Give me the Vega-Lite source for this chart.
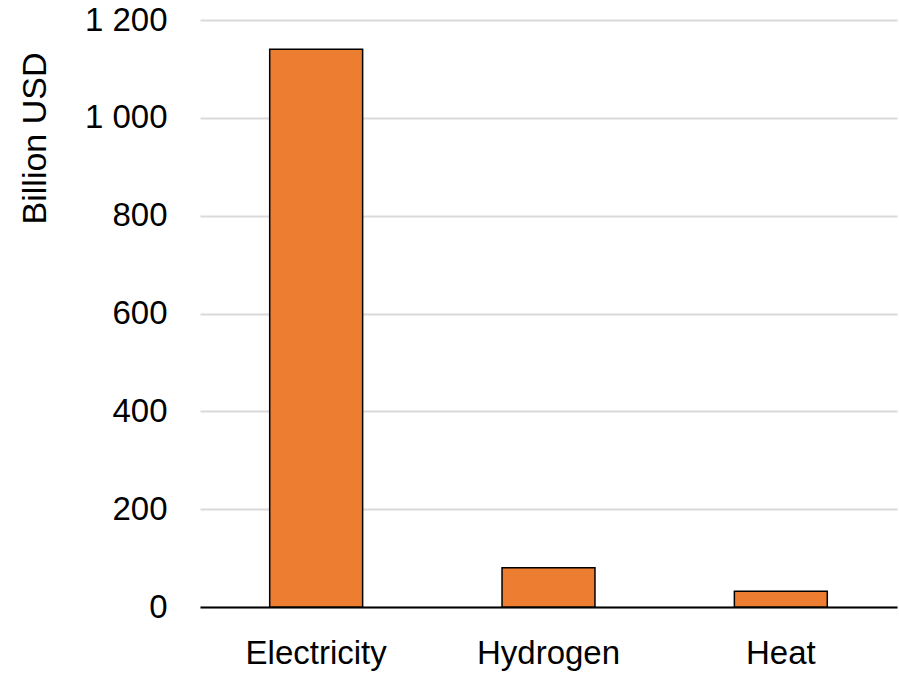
{
  "$schema": "https://vega.github.io/schema/vega-lite/v6.json",
  "autosize": {"type": "none"},
  "padding": {"left": 200, "top": 20, "right": 2, "bottom": 66},
  "width": 697,
  "height": 587,
  "background": "white",
  "config": {
    "view": {"stroke": null},
    "font": "Liberation Sans"
  },
  "data": {
    "values": [
      {"sector": "Electricity", "value": 1140},
      {"sector": "Hydrogen", "value": 80},
      {"sector": "Heat", "value": 32}
    ]
  },
  "mark": {"type": "bar", "color": "#ED7D31", "stroke": "#000000", "strokeWidth": 1.5},
  "encoding": {
    "x": {
      "field": "sector",
      "type": "nominal",
      "sort": null,
      "scale": {"paddingInner": 0.6, "paddingOuter": 0.3},
      "axis": {
        "title": null,
        "labelAngle": 0,
        "labelFontSize": 33,
        "labelColor": "#000000",
        "labelBaseline": "alphabetic",
        "labelPadding": 56,
        "ticks": false,
        "tickSize": 0,
        "domainColor": "#000000",
        "domainWidth": 2,
        "grid": false
      }
    },
    "y": {
      "field": "value",
      "type": "quantitative",
      "scale": {"domain": [0, 1200], "nice": false},
      "axis": {
        "title": "Billion USD",
        "titleFontSize": 34,
        "titleFontWeight": "normal",
        "titleColor": "#000000",
        "titleAngle": 270,
        "titleAlign": "right",
        "titleBaseline": "alphabetic",
        "titleX": -155,
        "titleY": 32,
        "values": [0, 200, 400, 600, 800, 1000, 1200],
        "labelExpr": "replace(format(datum.value, ','), ',', ' ')",
        "labelFontSize": 33,
        "labelColor": "#000000",
        "labelPadding": 33,
        "ticks": false,
        "tickSize": 0,
        "domain": false,
        "grid": true,
        "gridColor": "#d9d9d9",
        "gridWidth": 2
      }
    }
  }
}
